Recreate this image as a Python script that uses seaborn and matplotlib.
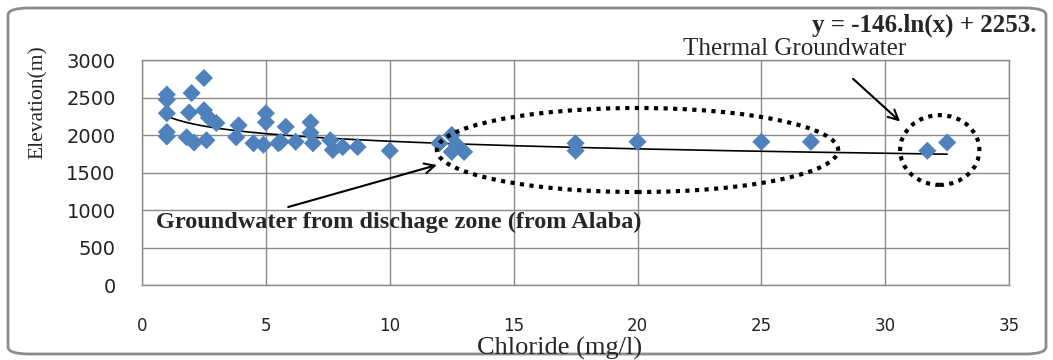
import numpy as np
import pandas as pd
import matplotlib
matplotlib.use("Agg")
import matplotlib.pyplot as plt
import seaborn as sns
from matplotlib.patches import Ellipse, FancyBboxPatch

# chloride (mg/l) and elevation (m)
chloride = [1.0, 1.0, 1.0, 1.0, 1.0,
            1.8, 1.9, 2.0, 2.1, 2.5, 2.5, 2.7, 2.6, 3.0,
            3.9, 3.8, 4.5, 4.9, 5.0, 5.0, 5.5, 5.8, 5.6, 6.2,
            6.8, 6.8, 6.9, 7.6, 7.7, 8.1, 8.7, 10.0,
            12.0, 12.5, 12.7, 12.5, 13.0,
            17.5, 17.5, 20.0, 25.0, 27.0, 31.7, 32.5]
elevation = [2540, 2470, 2290, 2040, 1980,
             1970, 2300, 2560, 1900, 2760, 2330, 2230, 1930, 2160,
             2130, 1970, 1890, 1870, 2290, 2170, 1890, 2110, 1910, 1910,
             2170, 2030, 1890, 1930, 1800, 1840, 1840, 1790,
             1890, 2000, 1870, 1775, 1775,
             1890, 1790, 1910, 1910, 1910, 1790, 1900]

# log trendline shown on the chart: y = -146 ln(x) + 2253
trend_a = -146
trend_b = 2253
trend_range = [1.0, 32.5]

x_ticks = [0, 5, 10, 15, 20, 25, 30, 35]
y_ticks = [0, 500, 1000, 1500, 2000, 2500, 3000]

df = pd.DataFrame({"Chloride": chloride, "Elevation": elevation})
tx = np.linspace(trend_range[0], trend_range[1], 200)
trend = pd.DataFrame({"Chloride": tx, "Elevation": trend_a * np.log(tx) + trend_b})

sns.set_style("white")
plt.rcParams["font.family"] = ["DejaVu Sans"]
serif = ["Liberation Serif", "DejaVu Serif"]

fig = plt.figure(figsize=(10.53, 3.6), dpi=100)
ax = fig.add_axes([0.1349, 0.2083, 0.8234, 0.625])

grid_c = "#8a8a8a"
ax.set_axisbelow(True)
ax.grid(True, color=grid_c, lw=1)

sns.lineplot(data=trend, x="Chloride", y="Elevation", ax=ax, color="black", lw=1.2, zorder=2)
sns.scatterplot(data=df, x="Chloride", y="Elevation", ax=ax, marker="D", s=85,
                color="#4f81bd", edgecolor="none", zorder=3)

ax.set_xlim(0, 35)
ax.set_ylim(0, 3000)
ax.set_xticks(x_ticks)
ax.set_yticks(y_ticks)
ax.set_xlabel("")
ax.set_ylabel("")
for s in ax.spines.values():
    s.set_color(grid_c)
    s.set_linewidth(1)
ax.tick_params(axis="both", direction="out", length=9, width=1, color=grid_c,
               labelcolor="#222222")
ax.tick_params(axis="y", pad=10, labelsize=14)
ax.tick_params(axis="x", pad=14, labelsize=12)

# dotted groups
ax.add_patch(Ellipse((20.0, 1800), 16.2, 1120, fill=False, ec="black", lw=3,
                     ls=(0, (1, 1.3)), zorder=4))
ax.add_patch(Ellipse((32.2, 1800), 3.2, 930, fill=False, ec="black", lw=3,
                     ls=(0, (1, 1.3)), zorder=4))

# arrows
ax.annotate("", xy=(11.9, 1600), xytext=(5.9, 1040),
            arrowprops=dict(arrowstyle="->", color="black", lw=1.5,
                            mutation_scale=18, shrinkA=0, shrinkB=0), zorder=5)
ax.annotate("", xy=(30.6, 2180), xytext=(28.7, 2750),
            arrowprops=dict(arrowstyle="->", color="black", lw=1.5,
                            mutation_scale=18, shrinkA=0, shrinkB=0), zorder=5)

fig.text(156 / 1053, 1 - 222 / 360, "Groundwater from dischage zone (from Alaba)",
         family=serif, fontsize=17.5, fontweight="bold", va="center", ha="left")
fig.text(795 / 1053, 1 - 49 / 360, "Thermal Groundwater",
         family=serif, fontsize=18, va="center", ha="center")
fig.text(1037 / 1053, 1 - 25 / 360, "y = -146.ln(x) + 2253.",
         family=serif, fontsize=18, fontweight="bold", va="center", ha="right")
fig.text(38 / 1053, 1 - 102 / 360, "Elevation(m)", family=serif, fontsize=15.5,
         rotation=90, va="center", ha="center")
fig.text(560 / 1053, 1 - 348 / 360, "Chloride (mg/l)", family=serif, fontsize=19,
         va="center", ha="center")

# rounded chart frame
fig.patches.append(FancyBboxPatch((8 / 1053, 6 / 360), 1038 / 1053, 346 / 360,
                                  boxstyle="round,pad=0,rounding_size=0.02",
                                  transform=fig.transFigure, fill=False,
                                  ec="#8c8c8c", lw=2))

fig.savefig("out.png", dpi=100)
